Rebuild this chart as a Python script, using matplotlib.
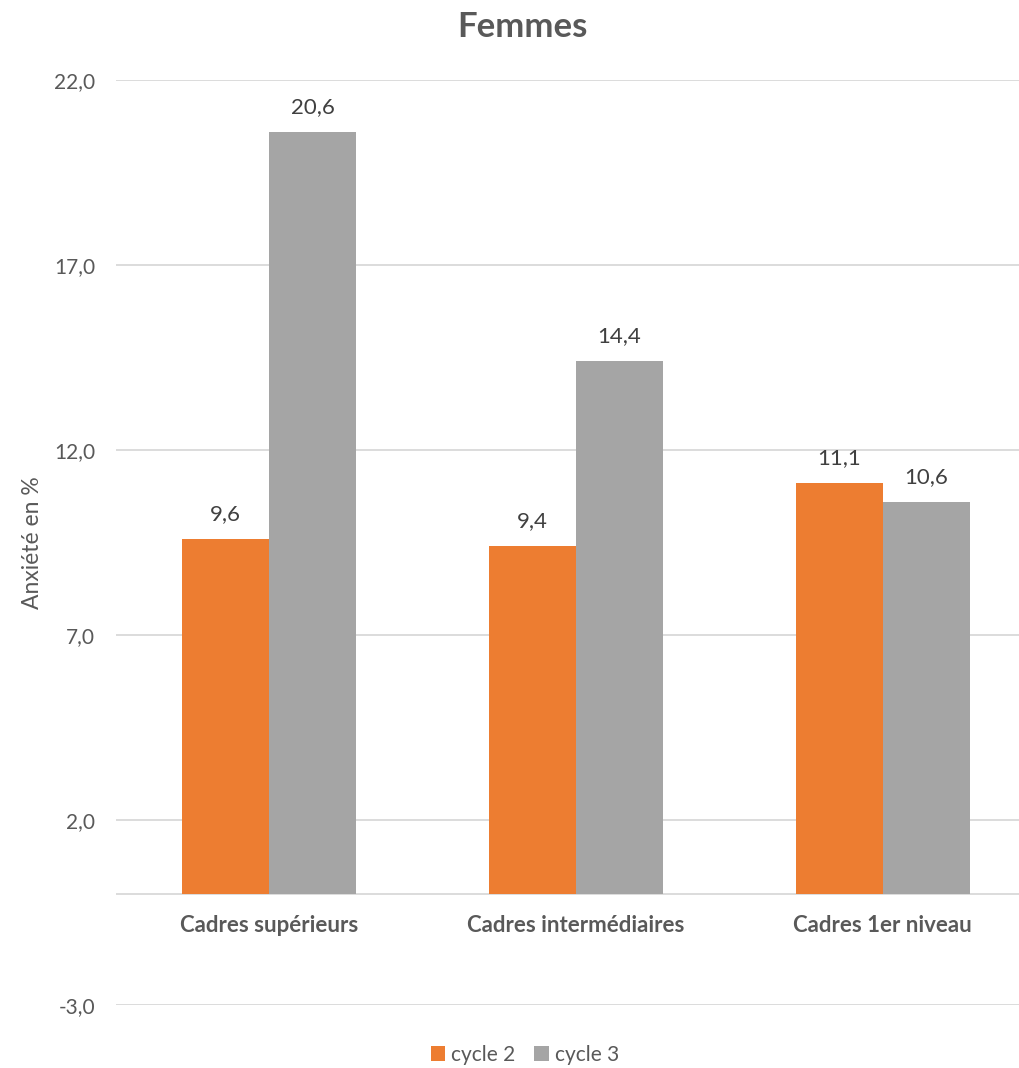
import matplotlib.pyplot as plt
import numpy as np

categories = ["Cadres supérieurs", "Cadres intermédiaires", "Cadres 1er niveau"]
cycle2 = [9.6, 9.4, 11.1]
cycle3 = [20.6, 14.4, 10.6]
series_names = ["cycle 2", "cycle 3"]
yticks = [-3, 2, 7, 12, 17, 22]

plt.rcParams['font.family'] = ['Lato', 'DejaVu Sans']
txt = '#595959'
orange = '#ED7D31'
grey = '#A5A5A5'

fig = plt.figure(figsize=(10.19, 10.68), dpi=100)
ax = fig.add_axes([116 / 1019, 1 - 1005 / 1068, 920 / 1019, 925 / 1068])

x = np.arange(len(categories))
w = 0.284
b2 = ax.bar(x - w / 2, cycle2, w, color=orange, label=series_names[0], zorder=3)
b3 = ax.bar(x + w / 2, cycle3, w, color=grey, label=series_names[1], zorder=3)

for bars in (b2, b3):
    for r in bars:
        v = r.get_height()
        ax.annotate(f"{v:.1f}".replace('.', ','), (r.get_x() + r.get_width() / 2, v),
                    xytext=(0, 18), textcoords='offset points', ha='center', va='center',
                    fontsize=16, color='#404040')

ax.set_xlim(-0.5, 2.5)
ax.set_ylim(-3, 22)
ax.set_yticks(yticks)
ax.set_yticklabels([f"{t:.1f}".replace('.', ',') for t in yticks], fontsize=15, color=txt)
ax.tick_params(axis='y', length=0, pad=15)
ax.set_xticks([])
ax.grid(axis='y', color='#D9D9D9', linewidth=1.3, zorder=0)
ax.axhline(0, color='#D9D9D9', linewidth=1.3, zorder=2)
for s in ax.spines.values():
    s.set_visible(False)

for i, c in enumerate(categories):
    ax.annotate(c, (i, 0), xytext=(0, -23), textcoords='offset points', ha='center',
                va='center', fontsize=16, fontweight='bold', color=txt)

ax.set_ylabel("Anxiété en %", fontsize=16.5, color=txt, labelpad=8)
fig.text(522 / 1019, 1 - 27 / 1068, "Femmes", ha='center', va='center', fontsize=25,
         fontweight='bold', color=txt)

fig.legend(loc='center', bbox_to_anchor=(525 / 1019, 1 - 1055 / 1068), ncol=2, frameon=False,
           fontsize=15, labelcolor=txt, handlelength=0.7, handleheight=0.7,
           handletextpad=0.3, columnspacing=0.9)

fig.savefig('out.png', dpi=100)
